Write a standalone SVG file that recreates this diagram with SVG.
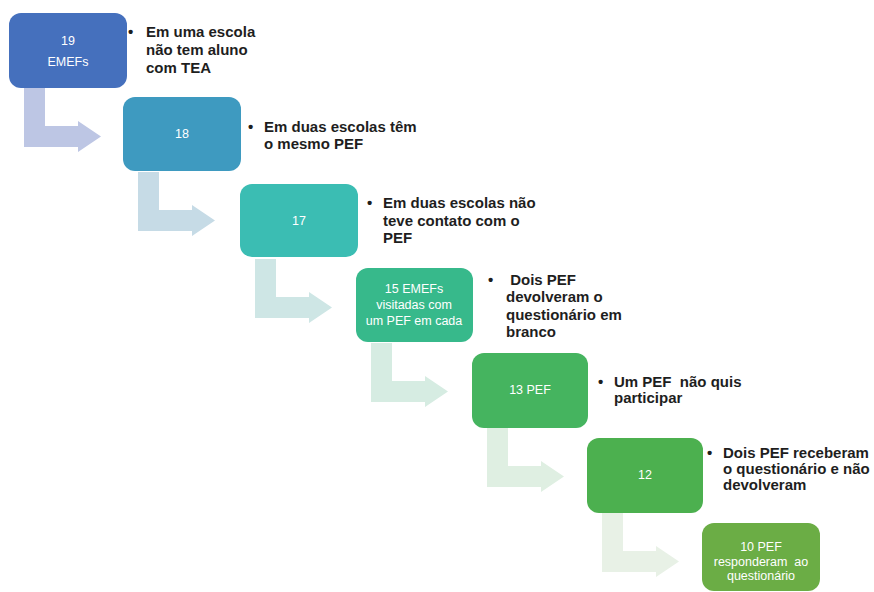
<svg xmlns="http://www.w3.org/2000/svg" width="874" height="592" viewBox="0 0 874 592">
<defs>
<style>
.box text{font-family:"Liberation Sans",Arial,sans-serif;font-size:12.5px;fill:#ffffff;text-anchor:middle;white-space:pre}
.note text{font-family:"Liberation Sans",Arial,sans-serif;font-size:15px;font-weight:bold;fill:#1e1e1e;white-space:pre}
</style>
<path id="elbow" d="M15,75 H36 V113 H69 V108 L92,123.5 L69,139 V134 H15 Z"/>
</defs>
<rect width="874" height="592" fill="#ffffff"/>
<g id="connectors">
<use href="#elbow" x="9" y="13" fill="#BDC6E4"/>
<use href="#elbow" x="123" y="97" fill="#C6DBE6"/>
<use href="#elbow" x="240" y="184" fill="#CEE6E5"/>
<use href="#elbow" x="356" y="268" fill="#D6ECE2"/>
<use href="#elbow" x="472" y="353" fill="#DFEFE2"/>
<use href="#elbow" x="587" y="438" fill="#E8F1E6"/>
</g>
<g id="n1" class="box"><rect x="9" y="13" width="118" height="75" rx="12" fill="#4570BD"/><text x="68" y="45">19</text><text x="68" y="66">EMEFs</text></g>
<g id="n2" class="box"><rect x="123" y="97" width="118" height="74" rx="12" fill="#3E9AC0"/><text x="182" y="138">18</text></g>
<g id="n3" class="box"><rect x="240" y="184" width="118" height="73" rx="12" fill="#3BBDB3"/><text x="299" y="225">17</text></g>
<g id="n4" class="box"><rect x="356" y="268" width="117" height="74" rx="12" fill="#37B98B"/><text x="414" y="293">15 EMEFs</text><text x="414" y="309">visitadas com</text><text x="414" y="325">um PEF em cada</text></g>
<g id="n5" class="box"><rect x="472" y="353" width="116" height="75" rx="12" fill="#45B45F"/><text x="530" y="394">13 PEF</text></g>
<g id="n6" class="box"><rect x="587" y="438" width="116" height="75" rx="12" fill="#4CB04F"/><text x="645" y="479">12</text></g>
<g id="n7" class="box"><rect x="702" y="523" width="118" height="68" rx="12" fill="#6BAD45"/><text x="761" y="551">10 PEF</text><text x="761" y="566">responderam  ao</text><text x="761" y="580">questionário</text></g>
<g id="t1" class="note"><text x="128" y="37">•</text><text x="146" y="37">Em uma escola</text><text x="146" y="55">não tem aluno</text><text x="146" y="73">com TEA</text></g>
<g id="t2" class="note"><text x="248" y="132">•</text><text x="264" y="132">Em duas escolas têm</text><text x="264" y="149">o mesmo PEF</text></g>
<g id="t3" class="note"><text x="367" y="208">•</text><text x="383" y="208">Em duas escolas não</text><text x="383" y="226">teve contato com o</text><text x="383" y="243">PEF</text></g>
<g id="t4" class="note"><text x="488" y="285">•</text><text x="506" y="285"> Dois PEF</text><text x="506" y="302">devolveram o</text><text x="506" y="320">questionário em</text><text x="506" y="337">branco</text></g>
<g id="t5" class="note"><text x="598" y="387">•</text><text x="614" y="387">Um PEF  não quis</text><text x="614" y="403">participar</text></g>
<g id="t6" class="note"><text x="707" y="458">•</text><text x="723" y="458">Dois PEF receberam</text><text x="723" y="474">o questionário e não</text><text x="723" y="490">devolveram</text></g>
</svg>
